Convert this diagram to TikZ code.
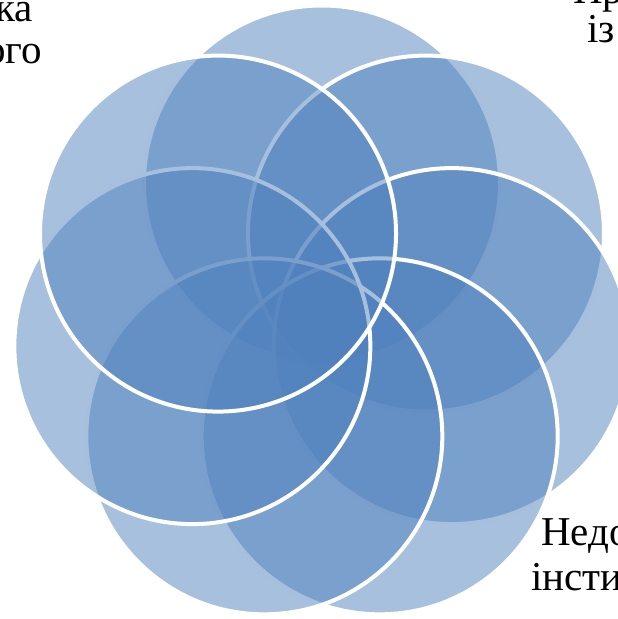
\documentclass[tikz,border=0pt]{standalone}
\usepackage{fontspec}
\setmainfont{Liberation Serif}
\definecolor{petal}{RGB}{79,129,189}
\begin{document}
\begin{tikzpicture}[x=1pt,y=-1pt,
  petalstyle/.style={fill=petal, fill opacity=0.5, draw=white, draw opacity=1, line width=4pt},
  lbl/.style={inner sep=0pt, font=\fontsize{41}{47}\selectfont, text=black}]
\useasboundingbox (0,0) rectangle (618,619);
\coordinate (o) at (322,316.5);
\foreach \a [count=\i] in {270,321.43,12.86,64.29,115.71,167.14,218.57}{
  \coordinate (c\i) at ([shift={(o)}]\a:133);
  \path[petalstyle] (c\i) circle[radius=178];
}
\node[lbl, anchor=base east] (t1a) at (33,21) {ка};
\node[lbl, anchor=base east] (t1b) at (42,63) {ого};
\node[lbl, anchor=base west] (t2a) at (573,3) {Пр};
\node[lbl, anchor=base west] (t2b) at (587,42) {із};
\node[lbl, anchor=base west] (t3a) at (541,545) {Недо};
\node[lbl, anchor=base west] (t3b) at (531,590) {інсти};
\end{tikzpicture}
\end{document}
